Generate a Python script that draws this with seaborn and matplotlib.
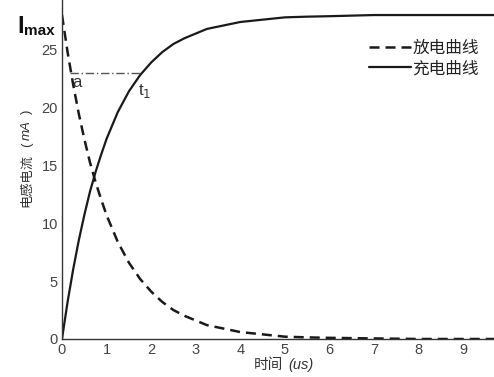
import matplotlib
matplotlib.use("Agg")
import matplotlib.pyplot as plt
import seaborn as sns
import pandas as pd

# Data
time_us = [0, 0.125, 0.25, 0.375, 0.5, 0.625, 0.75, 0.875, 1, 1.25, 1.5, 1.75, 2, 2.25, 2.5,
           2.75, 3, 3.25, 3.5, 3.75, 4, 4.25, 4.5, 4.75, 5, 5.5, 6, 7, 8, 9, 10]
discharge_mA = [28.0, 24.8, 22.0, 19.5, 17.3, 15.3, 13.6, 12.1, 10.7, 8.4, 6.6, 5.2, 4.1, 3.2, 2.5,
                2.0, 1.6, 1.2, 1.0, 0.8, 0.6, 0.5, 0.4, 0.3, 0.2, 0.14, 0.1, 0.05, 0.0, 0.0, 0.0]
charge_mA = [0.0, 3.2, 6.0, 8.5, 10.7, 12.7, 14.4, 15.9, 17.3, 19.6, 21.4, 22.8, 23.9, 24.8, 25.5,
             26.0, 26.4, 26.8, 27.0, 27.2, 27.4, 27.5, 27.6, 27.7, 27.8, 27.86, 27.9, 28.0, 28.0,
             28.0, 28.0]
series_labels = ["放电曲线", "充电曲线"]
x_ticks = [0, 1, 2, 3, 4, 5, 6, 7, 8, 9]
y_ticks = [0, 5, 10, 15, 20, 25]
guide_x = [0.18, 1.75]   # dash-dot guide from point a to t1
guide_y = 23.0
point_a = (0.34, 22.2)
point_t1 = (1.86, 21.4)

sns.set_theme(style="white")
plt.rcParams['font.family'] = ['Liberation Sans', 'Noto Sans CJK SC', 'DejaVu Sans']

df_dis = pd.DataFrame({"t": time_us, "I": discharge_mA})
df_chg = pd.DataFrame({"t": time_us, "I": charge_mA})

W, H = 494, 377
fig = plt.figure(figsize=(W / 100, H / 100), dpi=100)
ax = fig.add_axes([62 / W, 38 / H, 1 - 62 / W, 1 - 38 / H])

sns.lineplot(data=df_dis, x="t", y="I", ax=ax, color="#1a1a1a", lw=1.8,
             linestyle=(0, (4, 2.4)), label=series_labels[0])
sns.lineplot(data=df_chg, x="t", y="I", ax=ax, color="#1a1a1a", lw=1.6,
             linestyle="-", label=series_labels[1])

ax.plot(guide_x, [guide_y, guide_y], color="#555555", lw=1.0, linestyle=(0, (6, 2, 1, 2)))
ax.text(point_a[0], point_a[1], "a", fontsize=12, color="#333333", ha="center", va="center")
ax.text(point_t1[0], point_t1[1], "t$_1$", fontsize=12, color="#333333", ha="center", va="center")

ax.set_xlim(0, 9.69)
ax.set_ylim(0, 29.3)
ax.set_xticks(x_ticks)
ax.set_yticks(y_ticks)
ax.tick_params(direction="in", length=4, width=0.8, colors="#333333", labelsize=10.5,
               labelcolor="#444444", pad=3)
for s in ["top", "right"]:
    ax.spines[s].set_visible(False)
for s in ["left", "bottom"]:
    ax.spines[s].set_color("#333333")
    ax.spines[s].set_linewidth(1.0)
ax.set_xlabel("")
ax.set_ylabel("")

leg = ax.legend(loc="upper right", bbox_to_anchor=(1.0, 0.925), frameon=False,
                handlelength=2.5, handletextpad=0.1, labelspacing=0.3, fontsize=12)
for t in leg.get_texts():
    t.set_color("#222222")

# Axis labels composed of pieces (CJK upright + italic unit)
lab_color = "#333333"
fig.text(268 / W, 1 - 365 / H, "时间", fontsize=10.5, color=lab_color, ha="center", va="center")
fig.text(301 / W, 1 - 365 / H, "(us)", fontsize=10.5, color=lab_color, style="italic",
         ha="center", va="center")

fig.text(27 / W, 1 - 181 / H, "电感电流", fontsize=9.5, color=lab_color, rotation=90,
         ha="center", va="center")
fig.text(27 / W, 1 - 145 / H, "(", fontsize=9.5, color=lab_color, rotation=90,
         ha="center", va="center")
fig.text(27 / W, 1 - 130 / H, "mA", fontsize=9.5, color=lab_color, rotation=90, style="italic",
         ha="center", va="center")
fig.text(27 / W, 1 - 112 / H, ")", fontsize=9.5, color=lab_color, rotation=90,
         ha="center", va="center")

fig.text(17 / W, 1 - 33 / H, "I", fontsize=17, fontweight="bold", color="#111111",
         ha="left", va="baseline")
fig.text(24 / W, 1 - 35 / H, "max", fontsize=11, fontweight="bold", color="#111111",
         ha="left", va="baseline")

fig.savefig("out.png", dpi=100)
